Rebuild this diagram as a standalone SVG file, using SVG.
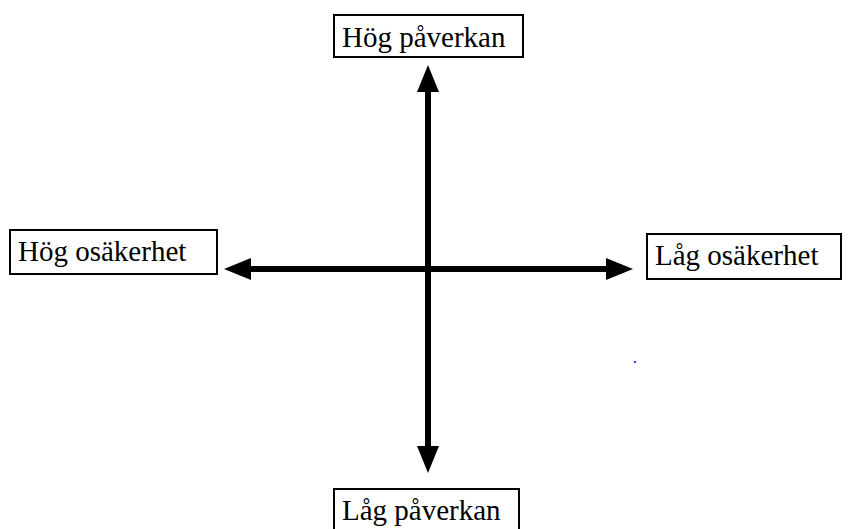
<svg xmlns="http://www.w3.org/2000/svg" width="848" height="529" viewBox="0 0 848 529">
  <style>
    .box { fill: #ffffff; stroke: #000000; stroke-width: 2; }
    .label { font-family: "Liberation Serif", "Times New Roman", serif; font-size: 29px; fill: #000000; }
    .axis { stroke: #000000; stroke-width: 6; fill: none; marker-start: url(#head); marker-end: url(#head); }
  </style>
  <defs>
    <marker id="head" markerUnits="userSpaceOnUse" markerWidth="28" markerHeight="24" refX="10" refY="12" orient="auto-start-reverse" viewBox="0 0 28 24">
      <path d="M0,1 L27,12 L0,23 z" fill="#000000"/>
    </marker>
  </defs>

  <!-- axes -->
  <g id="connectors">
    <line class="axis" x1="428" y1="82" x2="428" y2="456"/>
    <line class="axis" x1="241" y1="269" x2="616" y2="269"/>
  </g>

  <g id="top-node">
    <rect class="box" x="334" y="15" width="189" height="42"/>
    <text class="label" x="342" y="47">Hög påverkan</text>
  </g>

  <g id="left-node">
    <rect class="box" x="10" y="230" width="207" height="44"/>
    <text class="label" x="18" y="261">Hög osäkerhet</text>
  </g>

  <g id="right-node">
    <rect class="box" x="647" y="234" width="194" height="45"/>
    <text class="label" x="655" y="265">Låg osäkerhet</text>
  </g>

  <g id="bottom-node">
    <rect class="box" x="334" y="489" width="185" height="44"/>
    <text class="label" x="342" y="520">Låg påverkan</text>
  </g>

  <!-- stray mark -->
  <rect x="634" y="361" width="2" height="2" fill="#3030ff"/>
</svg>
